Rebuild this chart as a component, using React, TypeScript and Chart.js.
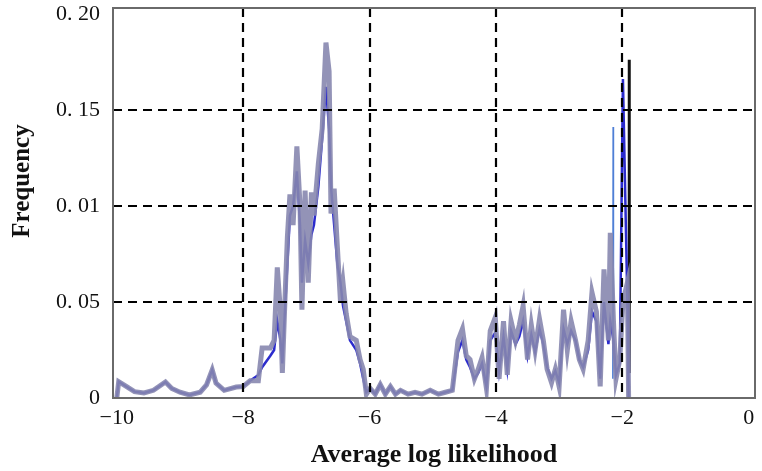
import React, { useEffect, useRef } from "react";
import { Chart, registerables } from "chart.js";

Chart.register(...registerables);

const xs = [
  -10.0, -9.97, -9.85, -9.72, -9.57, -9.42, -9.23, -9.13, -9.0, -8.85, -8.68, -8.58, -8.49, -8.43, -8.3, -8.11,
  -8.0, -7.89, -7.76, -7.7, -7.57, -7.51, -7.46, -7.41, -7.38, -7.34, -7.3, -7.26, -7.21, -7.15, -7.1, -7.07,
  -7.02, -6.97, -6.92, -6.88, -6.81, -6.75, -6.69, -6.64, -6.61, -6.56, -6.51, -6.46, -6.42, -6.37, -6.31,
  -6.21, -6.15, -6.1, -6.05, -5.99, -5.91, -5.83, -5.75, -5.67, -5.59, -5.51, -5.39, -5.28, -5.17, -5.04,
  -4.91, -4.8, -4.69, -4.6, -4.53, -4.47, -4.41, -4.34, -4.28, -4.22, -4.15, -4.09, -4.01, -3.95, -3.88,
  -3.82, -3.76, -3.69, -3.63, -3.57, -3.5, -3.44, -3.38, -3.31, -3.25, -3.19, -3.12, -3.06, -3.0, -2.93,
  -2.87, -2.81, -2.74, -2.68, -2.62, -2.54, -2.48, -2.41, -2.35, -2.29, -2.22, -2.19, -2.14, -2.1, -2.04,
  -1.99, -1.92, -1.9,
];

const grayY = [
  0.0, 0.0085, 0.006, 0.0033, 0.0026, 0.004, 0.0083, 0.005, 0.003, 0.0016, 0.003, 0.0068, 0.0146, 0.0078, 0.004, 0.0057,
  0.006, 0.009, 0.009, 0.026, 0.026, 0.03, 0.068, 0.045, 0.013, 0.05, 0.084, 0.106, 0.09, 0.131, 0.1, 0.046,
  0.108, 0.06, 0.107, 0.095, 0.122, 0.14, 0.185, 0.17, 0.096, 0.109, 0.079, 0.05, 0.06, 0.044, 0.032,
  0.03, 0.02, 0.015, 0.002, 0.005, 0.002, 0.007, 0.002, 0.006, 0.002, 0.004, 0.002, 0.003, 0.002, 0.004,
  0.002, 0.003, 0.004, 0.03, 0.036, 0.022, 0.02, 0.01, 0.015, 0.021, 0.005, 0.035, 0.042, 0.01, 0.04,
  0.012, 0.04, 0.03, 0.038, 0.048, 0.02, 0.038, 0.025, 0.041, 0.03, 0.015, 0.008, 0.015, 0.006, 0.046,
  0.025, 0.04, 0.03, 0.02, 0.015, 0.03, 0.055, 0.045, 0.006, 0.067, 0.03, 0.086, 0.04, 0.01, 0.02,
  0.05, 0.06, 0.0,
];

const blueY = [
  0.0, 0.0085, 0.006, 0.0033, 0.0026, 0.004, 0.0083, 0.005, 0.003, 0.0016, 0.003, 0.0068, 0.0146, 0.0078, 0.004, 0.0057,
  0.006, 0.009, 0.012, 0.016, 0.022, 0.025, 0.04, 0.03, 0.018, 0.045, 0.07, 0.095, 0.1, 0.118, 0.09, 0.06,
  0.082, 0.07, 0.085, 0.09, 0.11, 0.135, 0.162, 0.14, 0.11, 0.09, 0.07, 0.06, 0.048, 0.04, 0.03,
  0.025, 0.018, 0.01, 0.003, 0.005, 0.002, 0.007, 0.002, 0.006, 0.002, 0.004, 0.002, 0.003, 0.002, 0.004,
  0.002, 0.003, 0.004, 0.024, 0.03, 0.02, 0.016, 0.01, 0.013, 0.018, 0.006, 0.03, 0.034, 0.014, 0.032,
  0.015, 0.035, 0.028, 0.032, 0.04, 0.022, 0.033, 0.024, 0.036, 0.028, 0.016, 0.01, 0.014, 0.008, 0.036,
  0.028, 0.035, 0.03, 0.02, 0.016, 0.025, 0.045, 0.04, 0.01, 0.05, 0.028, 0.04, 0.03, 0.012, 0.018,
  0.166, 0.05, 0.0,
];

const spikeX = [-2.15, -2.145, -2.14];
const spikeY = [0.01, 0.141, 0.02];
const blackX = [-1.89, -1.89];
const blackY = [0.013, 0.176];

const xTicks = [-10, -8, -6, -4, -2, 0];
const yTicks = [0, 0.05, 0.1, 0.15, 0.2];
const yTickLabels = ["0", "0. 05", "0. 01", "0. 15", "0. 20"];
const xGridValues = [-8, -6, -4, -2];
const yGridValues = [0.05, 0.1, 0.15];
const yTitle = "Frequency";
const xTitle = "Average log likelihood";

const pts = (a: number[], b: number[]) => a.map((x, i) => ({ x, y: b[i] }));

const overlay = {
  id: "overlay",
  afterDatasetsDraw(chart: any) {
    const { ctx, chartArea, scales } = chart;
    const { left, right, top, bottom } = chartArea;
    ctx.save();
    ctx.strokeStyle = "#000";
    ctx.lineWidth = 2.2;
    ctx.setLineDash([9, 6]);
    xGridValues.forEach((v) => {
      const p = Math.round(scales.x.getPixelForValue(v));
      ctx.beginPath();
      ctx.moveTo(p, top);
      ctx.lineTo(p, bottom);
      ctx.stroke();
    });
    yGridValues.forEach((v) => {
      const p = Math.round(scales.y.getPixelForValue(v));
      ctx.beginPath();
      ctx.moveTo(left, p);
      ctx.lineTo(right, p);
      ctx.stroke();
    });
    ctx.setLineDash([]);
    ctx.strokeStyle = "#6a6a6a";
    ctx.lineWidth = 2;
    ctx.strokeRect(left, top, right - left, bottom - top);
    // y axis title
    ctx.translate(23, 181);
    ctx.rotate(-Math.PI / 2);
    ctx.fillStyle = "#111";
    ctx.font = "bold 25px 'Liberation Serif', 'DejaVu Serif', serif";
    ctx.textAlign = "center";
    ctx.textBaseline = "middle";
    ctx.fillText(yTitle, 0, 0);
    ctx.restore();
  },
};

export default function App() {
  const ref = useRef<HTMLCanvasElement>(null);
  useEffect(() => {
    document.body.style.margin = "0";
    const chart = new Chart(ref.current!, {
      type: "line",
      data: {
        datasets: [
          {
            data: pts(xs, grayY),
            borderColor: "rgba(135,135,175,0.9)",
            borderWidth: 5,
            pointRadius: 0,
            tension: 0,
          },
          {
            data: pts(xs, blueY),
            borderColor: "rgba(20,20,200,0.9)",
            borderWidth: 2.5,
            pointRadius: 0,
            tension: 0,
          },
          {
            data: pts(spikeX, spikeY),
            borderColor: "#4f7fd6",
            borderWidth: 1.5,
            pointRadius: 0,
          },
          {
            data: pts(blackX, blackY),
            borderColor: "#111",
            borderWidth: 3,
            pointRadius: 0,
          },
        ],
      },
      options: {
        animation: false,
        responsive: true,
        maintainAspectRatio: false,
        layout: { padding: { top: 8, right: 7, left: 0, bottom: 0 } },
        plugins: { legend: { display: false }, tooltip: { enabled: false } },
        scales: {
          x: {
            type: "linear",
            min: -10.06,
            max: 0.1,
            grid: { display: false, drawTicks: false },
            border: { display: false },
            afterBuildTicks: (s: any) => {
              s.ticks = xTicks.map((v) => ({ value: v }));
            },
            afterFit: (s: any) => {
              s.height = 73;
              s.paddingLeft = 0;
              s.paddingRight = 0;
            },
            ticks: {
              padding: 7,
              color: "#111",
              font: { family: "'Liberation Serif', 'DejaVu Serif', serif", size: 22 },
              callback: (v: any) => (v < 0 ? "\u2212" + Math.abs(v) : String(v)),
              maxRotation: 0,
            },
            title: {
              display: true,
              text: xTitle,
              color: "#111",
              padding: { top: 0, bottom: 0 },
              font: { family: "'Liberation Serif', 'DejaVu Serif', serif", size: 26, weight: "bold" },
            },
          },
          y: {
            min: 0,
            max: 0.203,
            grid: { display: false, drawTicks: false },
            border: { display: false },
            afterBuildTicks: (s: any) => {
              s.ticks = yTicks.map((v) => ({ value: v }));
            },
            afterFit: (s: any) => {
              s.width = 113;
              s.paddingTop = 0;
              s.paddingBottom = 0;
            },
            ticks: {
              padding: 13,
              color: "#111",
              font: { family: "'Liberation Serif', 'DejaVu Serif', serif", size: 22 },
              callback: (v: any) => {
                const i = yTicks.findIndex((t) => Math.abs(t - v) < 1e-9);
                return i >= 0 ? yTickLabels[i] : "";
              },
            },
          },
        },
      },
      plugins: [overlay],
    });
    return () => chart.destroy();
  }, []);
  return (
    <div style={{ position: "fixed", left: 0, top: 0, width: 762, height: 471, background: "#fff" }}>
      <canvas ref={ref} />
    </div>
  );
}
